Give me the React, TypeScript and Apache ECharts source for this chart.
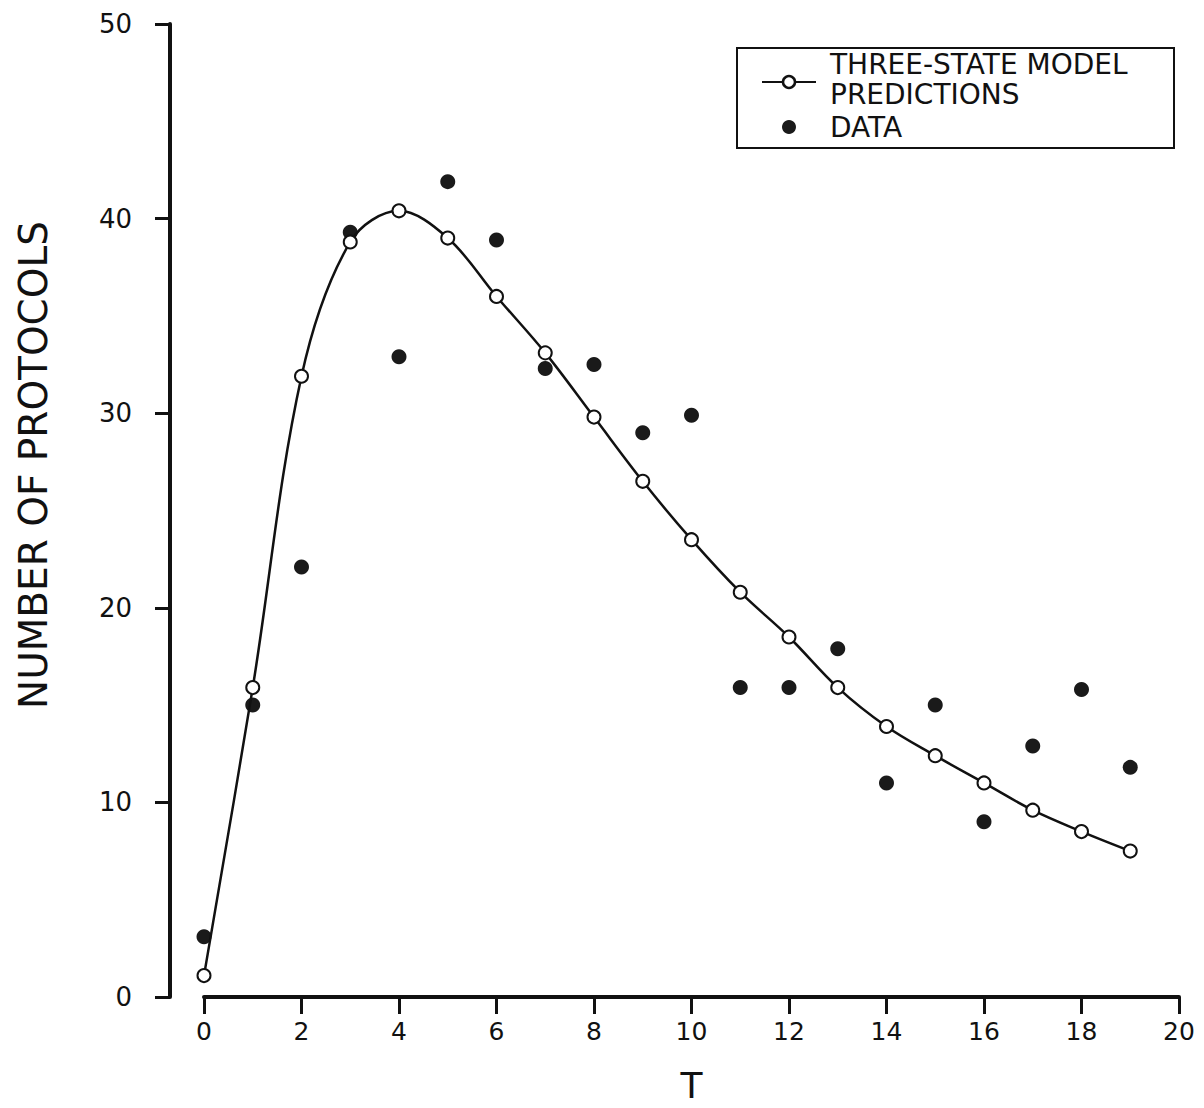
import React, { useEffect, useRef } from "react";
import * as echarts from "echarts";

const tValues = [0, 1, 2, 3, 4, 5, 6, 7, 8, 9, 10, 11, 12, 13, 14, 15, 16, 17, 18, 19];
const modelValues = [1.1, 15.9, 31.9, 38.8, 40.4, 39.0, 36.0, 33.1, 29.8, 26.5, 23.5, 20.8, 18.5, 15.9, 13.9, 12.4, 11.0, 9.6, 8.5, 7.5];
const dataValues = [3.1, 15.0, 22.1, 39.3, 32.9, 41.9, 38.9, 32.3, 32.5, 29.0, 29.9, 15.9, 15.9, 17.9, 11.0, 15.0, 9.0, 12.9, 15.8, 11.8];

const xAxisTitle = "T";
const yAxisTitle = "NUMBER OF PROTOCOLS";
const legendModel = ["THREE-STATE MODEL", "PREDICTIONS"];
const legendData = "DATA";

const FONT = "DejaVu Sans";

export default function App() {
  const ref = useRef<HTMLDivElement>(null);
  useEffect(() => {
    if (!ref.current) return;
    const chart = echarts.init(ref.current, null, { renderer: "svg" });
    const modelPts = tValues.map((t, i) => [t, modelValues[i]]);
    const dataPts = tValues.map((t, i) => [t, dataValues[i]]);
    chart.setOption({
      animation: false,
      backgroundColor: "#fff",
      grid: { left: 204, right: 25, top: 24, bottom: 109 },
      xAxis: {
        type: "value",
        min: 0,
        max: 20,
        interval: 2,
        splitLine: { show: false },
        axisLine: { show: true, onZero: false, lineStyle: { color: "#111", width: 4 } },
        axisTick: { show: true, length: 17, lineStyle: { color: "#111", width: 3 } },
        axisLabel: { margin: 22, color: "#111", fontSize: 25, fontFamily: FONT },
        name: xAxisTitle,
        nameLocation: "middle",
        nameGap: 70,
        nameTextStyle: { color: "#111", fontSize: 36, fontFamily: FONT },
      },
      yAxis: {
        type: "value",
        min: 0,
        max: 50,
        interval: 10,
        offset: 34,
        splitLine: { show: false },
        axisLine: { show: true, onZero: false, lineStyle: { color: "#111", width: 4 } },
        axisTick: { show: true, length: 15, lineStyle: { color: "#111", width: 3 } },
        axisLabel: { margin: 38, color: "#111", fontSize: 26, fontFamily: FONT },
      },
      series: [
        {
          name: "DATA",
          type: "scatter",
          data: dataPts,
          symbol: "circle",
          symbolSize: 15,
          itemStyle: { color: "#1a1a1a", opacity: 1 },
          z: 2,
        },
        {
          name: "THREE-STATE MODEL PREDICTIONS",
          type: "line",
          data: modelPts,
          smooth: 0.35,
          symbol: "emptyCircle",
          symbolSize: 13,
          showAllSymbol: true,
          lineStyle: { color: "#111", width: 2.5 },
          itemStyle: { color: "#111", borderWidth: 3 },
          z: 3,
        },
      ],
      graphic: [
        {
          type: "text",
          x: 33,
          y: 465,
          rotation: Math.PI / 2,
          style: {
            text: yAxisTitle,
            fontSize: 39,
            fontFamily: FONT,
            fill: "#111",
            align: "center",
            verticalAlign: "middle",
          },
        },
        {
          type: "group",
          children: [
            {
              type: "rect",
              shape: { x: 737, y: 48, width: 437, height: 100 },
              style: { fill: "#fff", stroke: "#111", lineWidth: 2 },
            },
            {
              type: "line",
              shape: { x1: 762, y1: 82, x2: 816, y2: 82 },
              style: { stroke: "#111", lineWidth: 2 },
            },
            {
              type: "circle",
              shape: { cx: 789, cy: 82, r: 6 },
              style: { fill: "#fff", stroke: "#111", lineWidth: 2.5 },
            },
            {
              type: "circle",
              shape: { cx: 789, cy: 127, r: 7 },
              style: { fill: "#1a1a1a" },
            },
            {
              type: "text",
              x: 830,
              y: 64,
              style: {
                text: legendModel[0],
                fontSize: 28,
                fontFamily: FONT,
                fill: "#111",
                align: "left",
                verticalAlign: "middle",
              },
            },
            {
              type: "text",
              x: 830,
              y: 94,
              style: {
                text: legendModel[1],
                fontSize: 28,
                fontFamily: FONT,
                fill: "#111",
                align: "left",
                verticalAlign: "middle",
              },
            },
            {
              type: "text",
              x: 830,
              y: 127,
              style: {
                text: legendData,
                fontSize: 28,
                fontFamily: FONT,
                fill: "#111",
                align: "left",
                verticalAlign: "middle",
              },
            },
          ],
        },
      ],
    });
    return () => chart.dispose();
  }, []);
  return (
    <div
      ref={ref}
      style={{ position: "absolute", left: 0, top: 0, width: 1204, height: 1108 }}
    />
  );
}
